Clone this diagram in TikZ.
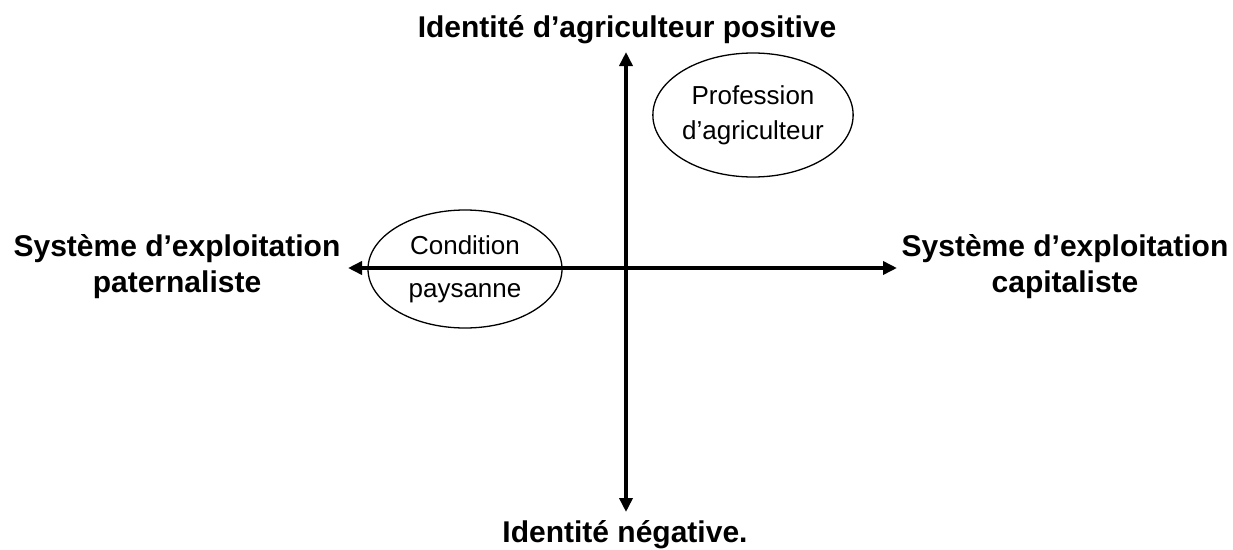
\documentclass[tikz,border=0pt]{standalone}
\usepackage{fontspec}
\setmainfont{Liberation Sans}
\usepackage{tikz}
\usetikzlibrary{arrows.meta,shapes.geometric,positioning}

\begin{document}
\begin{tikzpicture}[x=1pt,y=-1pt,
        axis/.style={line width=4pt, {Triangle[length=14pt,width=13pt]}-{Triangle[length=14pt,width=13pt]}},
        pole/.style={align=center, font=\fontsize{30}{36}\selectfont\bfseries, inner sep=0pt},
        zone/.style={draw, ellipse, line width=1.3pt, inner sep=0pt, align=center}]
        \useasboundingbox (0,0) rectangle (1233,549);
        % axes
        \coordinate (north) at (626,52);
        \coordinate (south) at (626,512);
        \coordinate (west) at (348,268);
        \coordinate (east) at (897,268);
        \draw[axis] (south) -- (north);
        \draw[axis] (west) -- (east);
        % poles
        \node[pole, anchor=base] (positive) at (627,37) {Identité d’agriculteur positive};
        \node[pole, anchor=base] (negative) at (625,542) {Identité négative.};
        \node[pole] (paternal) at (177,267) {Système d’exploitation\\paternaliste};
        \node[pole] (capital) at (1065,267) {Système d’exploitation\\capitaliste};
        % zones
        \node[zone, minimum width=172pt, minimum height=124pt,
            font=\fontsize{26}{35}\selectfont] (profession) at (753,115) {Profession\\d’agriculteur};
        \node[zone, minimum width=194pt, minimum height=118pt,
            font=\fontsize{26}{43}\selectfont] (condition) at (465,269) {Condition\\paysanne};
\end{tikzpicture}
\end{document}
